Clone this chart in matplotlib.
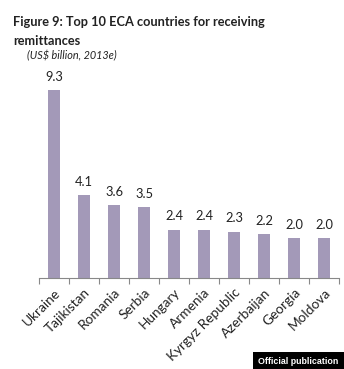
import matplotlib
matplotlib.use("Agg")
import matplotlib.pyplot as plt
from matplotlib.patches import Rectangle
import numpy as np

plt.rcParams["font.family"] = ["Lato", "DejaVu Sans"]

countries = ["Ukraine", "Tajikistan", "Romania", "Serbia", "Hungary",
             "Armenia", "Kyrgyz Republic", "Azerbaijan", "Georgia", "Moldova"]
values = [9.3, 4.1, 3.6, 3.5, 2.4, 2.4, 2.3, 2.2, 2.0, 2.0]

BAR_COLOR = "#a399b8"

fig = plt.figure(figsize=(3.44, 3.69), dpi=100)
ax = fig.add_axes([39 / 344, 1 - 278 / 369, 300 / 344, 208 / 369])

x = np.arange(len(countries))
ax.bar(x, values, width=0.4, color=BAR_COLOR)
for xi, v in zip(x, values):
    ax.text(xi, v + 0.35, f"{v:.1f}", ha="center", va="bottom", fontsize=9.3, color="#222222")

ax.set_xlim(-0.5, len(countries) - 0.5)
ax.set_ylim(0, 10.3)
ax.set_yticks([])
for side in ["left", "right", "top"]:
    ax.spines[side].set_visible(False)
ax.spines["bottom"].set_color("#888888")
# tick marks sit between categories, labels sit under the bars
ax.set_xticks(np.arange(len(countries) + 1) - 0.5)
ax.set_xticklabels([])
ax.tick_params(axis="x", length=4, color="#888888", direction="out")
ax.set_xticks(x, minor=True)
ax.set_xticklabels(countries, minor=True, rotation=45, ha="right", rotation_mode="anchor",
                   fontsize=9.8, color="#222222")
ax.tick_params(axis="x", which="minor", length=0, pad=6)

fig.text(13 / 344, 1 - 22 / 369, "Figure 9: Top 10 ECA countries for receiving",
         fontsize=9.2, fontweight="bold", va="center", ha="left", color="#222222")
fig.text(13 / 344, 1 - 41 / 369, "remittances",
         fontsize=9.2, fontweight="bold", va="center", ha="left", color="#222222")
fig.text(27 / 344, 1 - 56 / 369, "(US$ billion, 2013e)", fontsize=7.8, style="italic",
         va="center", ha="left", color="#222222")

# watermark badge in the bottom-right corner
fig.patches.append(Rectangle((253 / 344, 0), 91 / 344, 17 / 369, transform=fig.transFigure,
                             facecolor="black", edgecolor="none"))
fig.text(298 / 344, 1 - 361 / 369, "Official publication", fontsize=6.4, fontweight="bold",
         family="Liberation Sans", color="white", ha="center", va="center")

fig.savefig("out.png", dpi=100)
